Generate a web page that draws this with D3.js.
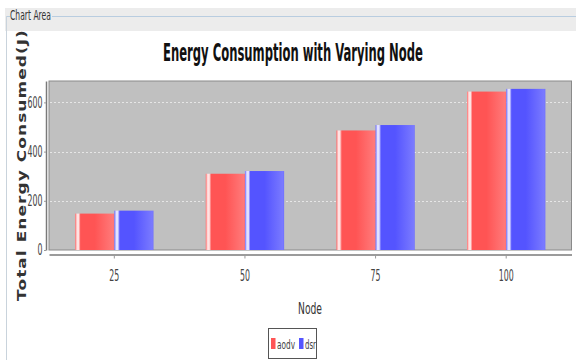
<!DOCTYPE html>
<html><head><meta charset="utf-8">
<script src="https://cdn.jsdelivr.net/npm/d3@7"></script>
<style>html,body{margin:0;padding:0;background:#fff;}svg{display:block;}</style>
</head><body>
<script>
const categories = ["25", "50", "75", "100"];
const seriesNames = ["aodv", "dsr"];
const aodv = [148, 310, 486, 644];
const dsr = [160, 321, 508, 655];
const yTicks = [0, 200, 400, 600];
const title = "Energy Consumption with Varying Node";
const xTitle = "Node";
const yTitle = "Total Energy Consumed(J)";
const panelLabel = "Chart Area";

const W = 576, H = 360;
const narrow = "'Liberation Sans Narrow','DejaVu Sans Condensed','DejaVu Sans',sans-serif";
const svg = d3.select("body").append("svg").attr("width", W).attr("height", H);
const defs = svg.append("defs");

// horizontally compress a text node so its rendered width equals targetW (anchor preserved)
function squeeze(node, targetW) {
  const w = node.getComputedTextLength();
  if (!w) return;
  const sx = targetW / w;
  const x = +(node.getAttribute("x") || 0);
  node.setAttribute("x", x / sx);
  const t = node.getAttribute("transform") || "";
  node.setAttribute("transform", (t + ` scale(${sx},1)`).trim());
}

function grad(id, base, light, hi, edge) {
  const g = defs.append("linearGradient").attr("id", id).attr("x1", 0).attr("x2", 1).attr("y1", 0).attr("y2", 0);
  [[0, edge], [0.05, hi], [0.09, hi], [0.14, base], [0.5, base], [0.97, light], [1, edge]]
    .forEach(([o, c]) => g.append("stop").attr("offset", o).attr("stop-color", c));
}
grad("gRed", "#ff5454", "#ff7a7a", "#ffe2e2", "#ff6c6c");
grad("gBlue", "#5454ff", "#7a7aff", "#e2e2ff", "#6c6cff");
const fills = { aodv: "url(#gRed)", dsr: "url(#gBlue)" };
const swatch = { aodv: "#ff5555", dsr: "#5555ff" };

// Panel chrome
svg.append("rect").attr("x", 5).attr("y", 8).attr("width", W - 5).attr("height", 23).attr("fill", "#ececec");
svg.append("line").attr("x1", 6).attr("x2", 10).attr("y1", 16.5).attr("y2", 16.5).attr("stroke", "#b9cde0");
svg.append("line").attr("x1", 52).attr("x2", W).attr("y1", 16.5).attr("y2", 16.5).attr("stroke", "#b9cde0");
svg.append("line").attr("x1", 6.5).attr("x2", 6.5).attr("y1", 16).attr("y2", H).attr("stroke", "#c9d3dc");
const pl = svg.append("text").attr("x", 10).attr("y", 20.5).attr("font-family", narrow).attr("font-size", 13.5)
  .attr("fill", "#333").text(panelLabel);
squeeze(pl.node(), 41);

// Title
const tt = svg.append("text").attr("x", 293).attr("y", 61.5).attr("text-anchor", "middle")
  .attr("font-family", narrow).attr("font-weight", "bold").attr("font-size", 25).attr("fill", "#111")
  .text(title);
squeeze(tt.node(), 260);

// Plot
const plot = { left: 49, right: 571.5, top: 81, bottom: 250 };
const x0 = d3.scaleBand().domain(categories).range([plot.left, plot.right]).paddingInner(0.4).paddingOuter(0.2);
const x1 = d3.scaleBand().domain(seriesNames).range([0, x0.bandwidth()]);
const y = d3.scaleLinear().domain([0, 687]).range([plot.bottom, plot.top]);

svg.append("rect").attr("x", plot.left).attr("y", plot.top).attr("width", plot.right - plot.left)
  .attr("height", plot.bottom - plot.top).attr("fill", "#c0c0c0").attr("stroke", "#8a8a8a").attr("stroke-width", 1);

svg.append("g").selectAll("line").data(yTicks.filter(d => d > 0)).join("line")
  .attr("x1", plot.left + 1).attr("x2", plot.right - 1)
  .attr("y1", d => Math.round(y(d)) + 0.5).attr("y2", d => Math.round(y(d)) + 0.5)
  .attr("stroke", "#e6e6e6").attr("stroke-dasharray", "2,2");

const rows = categories.map((c, i) => ({ c, aodv: aodv[i], dsr: dsr[i] }));
svg.append("g").selectAll("g").data(rows).join("g")
  .attr("transform", d => `translate(${x0(d.c)},0)`)
  .selectAll("rect").data(d => seriesNames.map(k => ({ k, v: d[k] }))).join("rect")
  .attr("x", d => x1(d.k)).attr("width", x1.bandwidth())
  .attr("y", d => y(d.v)).attr("height", d => y(0) - y(d.v))
  .attr("fill", d => fills[d.k]);

// Axes
const xAxisY = 254.5;
const xAxis = svg.append("g").attr("transform", `translate(0,${xAxisY})`)
  .call(d3.axisBottom(x0).tickSize(4).tickSizeOuter(0).tickPadding(10));
xAxis.select(".domain").attr("stroke", "#7a7a7a").attr("stroke-width", 1.5);
xAxis.selectAll(".tick line").attr("stroke", "#999");
xAxis.selectAll("text").attr("font-family", narrow).attr("font-size", 15).attr("fill", "#444")
  .attr("dy", null).attr("y", 27);
xAxis.selectAll("text").each(function (d) { squeeze(this, 5 * String(d).length); });

const yAxisX = 46;
const yAxis = svg.append("g").attr("transform", `translate(${yAxisX},0)`)
  .call(d3.axisLeft(y).tickValues(yTicks).tickSize(2).tickSizeOuter(0).tickPadding(1.5));
yAxis.select(".domain").attr("stroke", "#7a7a7a").attr("stroke-width", 1.5);
yAxis.selectAll(".tick line").attr("stroke", "#999");
yAxis.selectAll("text").attr("font-family", narrow).attr("font-size", 15).attr("fill", "#444");
yAxis.selectAll("text").each(function (d) { squeeze(this, 5 * String(d).length); });

const xt = svg.append("text").attr("x", 310).attr("y", 314).attr("text-anchor", "middle")
  .attr("font-family", narrow).attr("font-size", 15).attr("fill", "#333").text(xTitle);
squeeze(xt.node(), 24);

// Y title: wide bold face, stretched along its length
const yt = svg.append("text").attr("x", 0).attr("y", 0).attr("text-anchor", "middle")
  .attr("font-family", "'DejaVu Sans',sans-serif").attr("font-weight", "bold").attr("font-size", 12.5)
  .attr("letter-spacing", 0.8).attr("fill", "#333").text(yTitle);
{
  const w = yt.node().getComputedTextLength();
  const sx = 272 / w;
  yt.attr("transform", `translate(25.5,165) rotate(-90) scale(${sx},1)`);
}

// Legend
const lg = svg.append("g");
lg.append("rect").attr("x", 268.5).attr("y", 328.5).attr("width", 48).attr("height", 30)
  .attr("fill", "#fff").attr("stroke", "#555");
const legendX = d3.scaleOrdinal().domain(seriesNames).range([271, 299]);
const legendW = { aodv: 18, dsr: 11 };
seriesNames.forEach(k => {
  lg.append("rect").attr("x", legendX(k)).attr("y", 338).attr("width", 4.5).attr("height", 11).attr("fill", swatch[k]);
  const t = lg.append("text").attr("x", legendX(k) + 6).attr("y", 349).attr("font-family", narrow).attr("font-size", 12.5)
    .attr("fill", "#444").text(k);
  squeeze(t.node(), legendW[k]);
});
</script>
</body></html>
